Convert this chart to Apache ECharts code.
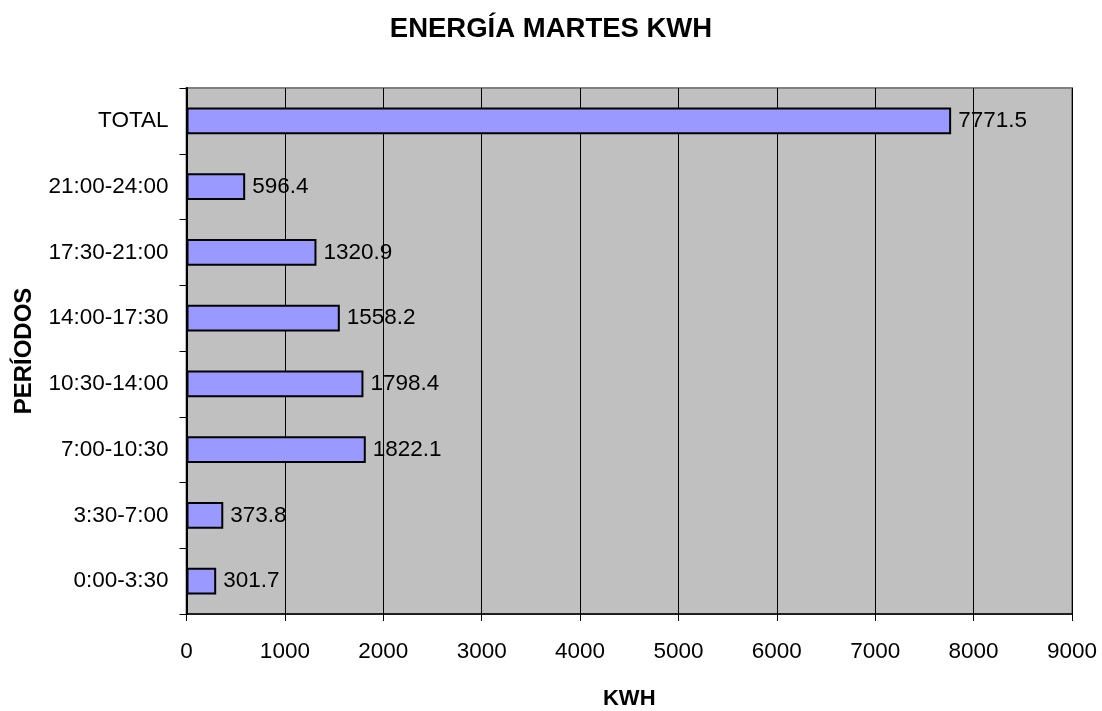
<!DOCTYPE html>
<html>
<head>
<meta charset="utf-8">
<title>ENERGÍA MARTES KWH</title>
<script src="https://cdn.jsdelivr.net/npm/echarts@6/dist/echarts.min.js"></script>
<style>
  html, body { margin: 0; padding: 0; background: #ffffff; }
  #chart { width: 1102px; height: 711px; }
</style>
</head>
<body>
<div id="chart"></div>
<script>
// Energy per time period on Tuesday, listed bottom to top
const periods = ['0:00-3:30', '3:30-7:00', '7:00-10:30', '10:30-14:00',
                 '14:00-17:30', '17:30-21:00', '21:00-24:00', 'TOTAL'];
const kwh = [301.7, 373.8, 1822.1, 1798.4, 1558.2, 1320.9, 596.4, 7771.5];

const titleText = 'ENERGÍA MARTES KWH';
const xName = 'KWH';
const yName = 'PERÍODOS';

const FONT = "'Liberation Sans', Arial, sans-serif";

const chart = echarts.init(document.getElementById('chart'), null, { renderer: 'canvas' });

chart.setOption({
  backgroundColor: '#ffffff',
  animation: false,
  title: {
    text: titleText,
    left: 546,
    textAlign: 'center',
    top: 10,
    textStyle: { fontFamily: FONT, fontSize: 27.5, fontWeight: 'bold', color: '#000' }
  },
  grid: {
    left: 186.5,
    right: 30,
    top: 88,
    bottom: 97,
    containLabel: false,
    outerBoundsMode: 'none',
    show: true,
    backgroundColor: '#c0c0c0',
    borderColor: '#808080',
    borderWidth: 2
  },
  xAxis: {
    type: 'value',
    min: 0,
    max: 9000,
    interval: 1000,
    name: xName,
    nameLocation: 'middle',
    nameGap: 74,
    nameTextStyle: { fontFamily: FONT, fontSize: 22, fontWeight: 'bold', color: '#000' },
    axisLine: { show: true, lineStyle: { color: '#000', width: 1.5 } },
    axisTick: { show: true, length: 7, lineStyle: { color: '#000', width: 1 } },
    axisLabel: {
      fontFamily: FONT, fontSize: 22.5, color: '#000', margin: 26,
      formatter: v => String(v)
    },
    splitLine: { show: true, lineStyle: { color: '#000', width: 1 } }
  },
  yAxis: {
    type: 'category',
    data: periods,
    name: yName,
    nameLocation: 'middle',
    nameGap: 150,
    nameRotate: 90,
    nameTextStyle: { fontFamily: FONT, fontSize: 24, fontWeight: 'bold', color: '#000' },
    axisLine: { show: true, lineStyle: { color: '#000', width: 2 } },
    axisTick: { show: true, length: 7, alignWithLabel: false, lineStyle: { color: '#000', width: 1 } },
    axisLabel: { fontFamily: FONT, fontSize: 22.5, color: '#000', margin: 18 },
    splitLine: { show: false }
  },
  series: [{
    type: 'bar',
    data: kwh,
    barWidth: '41%',
    itemStyle: { color: '#9999ff', borderColor: '#000', borderWidth: 2 },
    label: {
      show: true,
      position: 'right',
      distance: 7,
      fontFamily: FONT,
      fontSize: 22.5,
      color: '#000',
      formatter: p => p.value.toFixed(1)
    }
  }]
});
</script>
</body>
</html>
